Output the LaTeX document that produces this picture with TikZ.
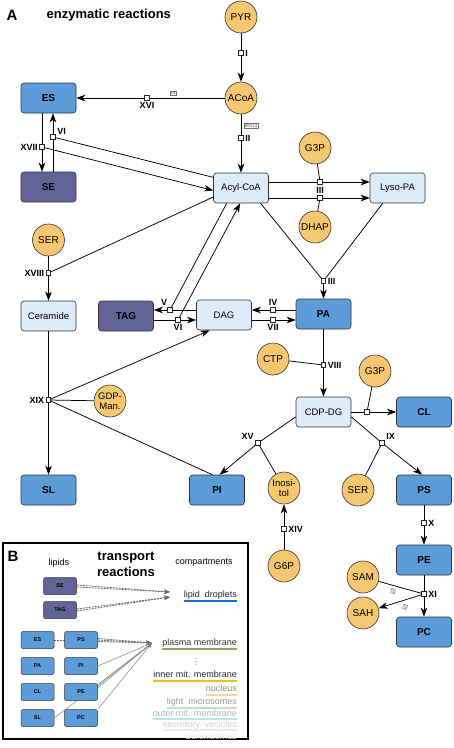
\documentclass[tikz,border=0pt]{standalone}
\usepackage{fontspec}
\setmainfont{Liberation Sans}
\newfontfamily\symfont{DejaVu Sans}
\usepackage{tikz}
\usetikzlibrary{arrows.meta,backgrounds}

\definecolor{metorange}{RGB}{244,199,112}
\definecolor{lipblue}{RGB}{92,156,216}
\definecolor{lipdark}{RGB}{98,100,152}
\definecolor{liplight}{RGB}{222,235,248}
\definecolor{cldrop}{RGB}{20,110,215}
\definecolor{cplasma}{RGB}{140,170,80}
\definecolor{cinner}{RGB}{245,190,20}
\definecolor{cnucl}{RGB}{245,215,160}
\definecolor{cmicro}{RGB}{190,225,200}
\definecolor{couter}{RGB}{180,230,235}
\definecolor{csecr}{RGB}{222,240,250}

\begin{document}
\begin{tikzpicture}[x=1pt,y=-1pt,line width=0.75pt,
  met/.style={circle, draw=black!80, line width=0.6pt, fill=metorange, minimum size=32pt, inner sep=0pt, align=center, font=\fontsize{10}{10}\selectfont},
  lip/.style={rectangle, rounded corners=3pt, draw=black!80, line width=0.6pt, minimum width=55pt, minimum height=30pt, inner sep=0pt},
  lipA/.style={lip, fill=lipblue, font=\bfseries\fontsize{10}{12}\selectfont},
  lipB/.style={lip, fill=lipdark, font=\bfseries\fontsize{10}{12}\selectfont},
  lipC/.style={lip, fill=liplight, font=\fontsize{9.5}{12}\selectfont},
  rxn/.style={rectangle, draw=black!85, fill=white, line width=0.6pt, minimum size=4.5pt, inner sep=0pt},
  rlab/.style={font=\bfseries\fontsize{9}{9}\selectfont, inner sep=1.5pt},
  arr/.style={-{Stealth[length=9pt,width=6.5pt,inset=2.5pt]}},
  num/.style={draw=black!55, fill=white, line width=0.4pt, inner sep=0.7pt, text=black!70, font=\fontsize{4.5}{5}\selectfont},
  slip/.style={rectangle, rounded corners=2pt, draw=black!80, line width=0.5pt, minimum width=33pt, minimum height=17pt, inner sep=0pt, font=\bfseries\fontsize{5.5}{6}\selectfont},
  slipA/.style={slip, fill=lipblue},
  slipB/.style={slip, fill=lipdark},
  comp/.style={inner sep=0pt, font=\fontsize{9}{10}\selectfont},
  tline/.style={black!50, line width=0.5pt, -{Stealth[length=5pt,width=3.5pt]}},
  tdash/.style={black!60, line width=0.8pt, dash pattern=on 2pt off 1pt, -{Stealth[length=6pt,width=4.5pt]}}]

  \useasboundingbox (0,0) rectangle (454,748);

  % Draw titles
  \node [font=\bfseries\fontsize{15}{15}\selectfont] (labA) at (12,15) {A};
  \node [anchor=west, font=\bfseries\fontsize{13}{13}\selectfont] (titA) at (43,15) {enzymatic reactions};

  % Draw metabolites
  \node [met] (pyr) at (241,17) {PYR};
  \node [met] (acoa) at (241,98) {ACoA};
  \node [met] (g3pa) at (315,148) {G3P};
  \node [met] (dhap) at (315,227) {DHAP};
  \node [met] (sera) at (48.5,240) {SER};
  \node [met] (ctp) at (273,359) {CTP};
  \node [met] (g3pb) at (375,371) {G3P};
  \node [met, font=\fontsize{9.5}{9.5}\selectfont] (gdpman) at (110,401) {GDP-\\Man.};
  \node [met, font=\fontsize{9.5}{9.5}\selectfont] (inos) at (284,488) {Inosi-\\tol};
  \node [met] (serb) at (358,490) {SER};
  \node [met] (g6p) at (284,566) {G6P};
  \node [met] (sam) at (363,577) {SAM};
  \node [met] (sah) at (363,613) {SAH};

  % Draw lipids
  \node [lipA] (es) at (48.5,98) {ES};
  \node [lipB] (se) at (48.5,187) {SE};
  \node [lipC] (acyl) at (241,188) {Acyl-CoA};
  \node [lipC] (lyso) at (397.5,188) {Lyso-PA};
  \node [lipC] (cer) at (48.5,316) {Ceramide};
  \node [lipB] (tag) at (126,316) {TAG};
  \node [lipC] (dag) at (224,315) {DAG};
  \node [lipA] (pa) at (323.5,314) {PA};
  \node [lipC] (cdp) at (323.5,412) {CDP-DG};
  \node [lipA] (cl) at (424,412) {CL};
  \node [lipA] (sl) at (48.5,490) {SL};
  \node [lipA] (pi) at (217,490) {PI};
  \node [lipA] (ps) at (424,490) {PS};
  \node [lipA] (pe) at (424,560) {PE};
  \node [lipA] (pc) at (424,632) {PC};

  % Draw reactions
  \node [rxn, label={[rlab]right:I}] (r1) at (241,53) {};
  \node [rxn, label={[rlab]below:XVI}] (r16) at (147,98) {};
  \node [rxn, label={[rlab]right:II}] (r2) at (241,138) {};
  \node [rxn, label={[rlab]left:XVII}] (r17) at (42,147) {};
  \node [rxn, label={[rlab]20:VI}] (r6a) at (53,137) {};
  \node [rxn] (r3a) at (320,182) {};
  \node [rxn] (r3b) at (320,198) {};
  \node [rlab] (l3) at (320,190) {III};
  \node [rxn, label={[rlab]left:XVIII}] (r18) at (48.5,273) {};
  \node [rxn, label={[rlab]right:III}] (r3c) at (323.5,281) {};
  \node [rxn, label={[rlab]110:V}] (r5) at (170,310) {};
  \node [rxn, label={[rlab]below:VI}] (r6b) at (178,320) {};
  \node [rxn, label={[rlab]above:IV}] (r4) at (273,310) {};
  \node [rxn, label={[rlab]below:VII}] (r7) at (273,320) {};
  \node [rxn, label={[rlab]right:VIII}] (r8) at (323.5,365) {};
  \node [rxn] (rcl) at (367,412) {};
  \node [rxn, label={[rlab]left:XIX}] (r19) at (48.5,400) {};
  \node [rxn, label={[rlab]150:XV}] (r15) at (258,443) {};
  \node [rxn, label={[rlab]30:IX}] (r9) at (382,443) {};
  \node [rxn, label={[rlab]right:XIV}] (r14) at (284,529) {};
  \node [rxn, label={[rlab]right:X}] (r10) at (424,523) {};
  \node [rxn, label={[rlab]right:XI}] (r11) at (424,594) {};

  % Draw reaction edges
  \draw (pyr) -- (r1);  \draw [arr] (r1) -- (acoa);
  \draw (acoa) -- (r16);  \draw [arr] (r16) -- (es);
  \draw (acoa) -- (r2);  \draw [arr] (r2) -- (acyl);
  \draw (r17 |- es.south) -- (r17);  \draw [arr] (r17) -- (r17 |- se.north);  \draw [arr] (r17) -- (acyl.185);
  \draw (r6a |- se.north) -- (r6a);  \draw [arr] (r6a) -- (r6a |- es.south);  \draw (acyl.159) -- (r6a);
  \draw (acyl.east |- r3a) -- (r3a);  \draw [arr] (r3a) -- (lyso.west |- r3a);  \draw (g3pa) -- (r3a);
  \draw (acyl.east |- r3b) -- (r3b);  \draw [arr] (r3b) -- (lyso.west |- r3b);  \draw (dhap) -- (r3b);
  \draw (acyl.-38) -- (r3c);  \draw (lyso.-134) -- (r3c);  \draw [arr] (r3c) -- (pa);
  \draw (acyl.198) -- (r18);  \draw (sera) -- (r18);  \draw [arr] (r18) -- (cer);
  \draw (acyl.-133) -- (r5);  \draw (dag.west |- r5) -- (r5);  \draw [arr] (r5) -- (tag.east |- r5);
  \draw (tag.east |- r6b) -- (r6b);  \draw [arr] (r6b) -- (dag.west |- r6b);  \draw [arr] (r6b) -- (acyl.-93);
  \draw (pa.west |- r4) -- (r4);  \draw [arr] (r4) -- (dag.east |- r4);
  \draw (dag.east |- r7) -- (r7);  \draw [arr] (r7) -- (pa.west |- r7);
  \draw (pa) -- (r8);  \draw (ctp) -- (r8);  \draw [arr] (r8) -- (cdp);
  \draw (cdp) -- (rcl);  \draw (g3pb) -- (rcl);  \draw [arr] (rcl) -- (cl);
  \draw (cer) -- (r19);  \draw [arr] (r19) -- (sl);  \draw [arr] (r19) -- (dag.-133);
  \draw (r19) -- (gdpman);  \draw (r19) -- (pi.107);
  \draw (cdp.190) -- (r15);  \draw (inos) -- (r15);  \draw [arr] (r15) -- (pi.80);
  \draw (cdp.-10) -- (r9);  \draw (serb) -- (r9);  \draw [arr] (r9) -- (ps.97);
  \draw (g6p) -- (r14);  \draw [arr] (r14) -- (inos);
  \draw (ps) -- (r10);  \draw [arr] (r10) -- (pe);
  \draw (pe) -- (r11);  \draw [arr] (r11) -- (pc);
  \draw (sam) -- (r11);  \draw [arr] (r11) -- (sah);

  % Stoichiometry boxes
  \node [num] (n18) at (173,93) {18};
  \node [num] (n8913) at (251,126) {8/9/13};
  \node [num, rotate=-14] (n3a) at (393,591) {3};
  \node [num, rotate=-21] (n3b) at (405,607) {3};

  % Transport panel
  \draw [line width=1.3pt] (3,543) rectangle (248,739);
  \node [font=\bfseries\fontsize{15}{15}\selectfont] (labB) at (13,556) {B};
  \node [font=\fontsize{9}{10}\selectfont] (hlip) at (59,563) {lipids};
  \node [align=center, font=\bfseries\fontsize{13}{16}\selectfont] (titB) at (126,564) {transport\\reactions};
  \node [font=\fontsize{9}{10}\selectfont] (hcomp) at (204,563) {compartments};

  \node [slipB] (sse) at (60,586) {SE};
  \node [slipB] (stag) at (60,610) {TAG};
  \node [slipA] (ses) at (37.5,640) {ES};
  \node [slipA] (sps) at (81,640) {PS};
  \node [slipA] (spa) at (37.5,666) {PA};
  \node [slipA] (spi) at (81,666) {PI};
  \node [slipA] (scl) at (37.5,692) {CL};
  \node [slipA] (spe) at (81,692) {PE};
  \node [slipA] (ssl) at (37.5,718) {SL};
  \node [slipA] (spc) at (81,718) {PC};

  \coordinate (ld1) at (170,592);
  \coordinate (ld2) at (170,597);
  \coordinate (pm) at (152,643);

  \begin{pgfonlayer}{background}
    \draw [tdash] ([yshift=1pt]sse.east) -- (ld1);
    \draw [tdash] ([yshift=-1pt]sse.east) -- (ld1);
    \draw [tdash] ([yshift=1pt]stag.east) -- (ld2);
    \draw [tdash] ([yshift=-1pt]stag.east) -- (ld2);
    \draw [tdash] (ses.east) -- (sps.center);
    \draw [tdash] ([yshift=1.5pt]sps.east) -- (pm);
    \draw [tdash] (sps.east) -- (pm);
    \draw [tdash] ([yshift=-1.5pt]sps.east) -- (pm);
    \draw [tline] (spi.east) -- (pm);
    \draw [tline] ([yshift=4pt]spe.east) -- (pm);
    \draw [tline] ([yshift=6pt]spe.east) -- (pm);
    \draw [tline] (ssl.east) -- (pm);
    \draw [tline] (spc.north east) -- (pm);
  \end{pgfonlayer}

  % Compartments
  \begin{scope}
    \clip (3,543) rectangle (248,738);
    \node [comp, anchor=base east, text=black!85] (cld) at (237,597) {lipid\ \ droplets};
    \node [comp, anchor=base east, text=black!80] (cpm) at (237,645) {plasma membrane};
    \node [comp, anchor=base east, text=black!85] (cim) at (237,677) {inner mit. membrane};
    \node [comp, anchor=base east, text=black!45] (cnu) at (237,691) {nucleus};
    \node [comp, anchor=base east, text=black!40] (cmi) at (237,704) {light\ \ microsomes};
    \node [comp, anchor=base east, text=black!30] (com) at (237,716) {outer mit. membrane};
    \node [comp, anchor=base east, text=black!18] (csv) at (237,727) {secretory\ \ vesicles};
    \node [comp, anchor=base east, text=black!8] (cpx) at (237,739) {peroxisomes};
    \node [font=\symfont\fontsize{8}{8}\selectfont, text=black!60, inner sep=0pt] (cdots) at (196,662) {⋮};
    \draw [line width=2.2pt, cldrop] ([yshift=-4pt]cld.base west) -- ([yshift=-4pt]cld.base east);
    \draw [line width=2.2pt, cplasma] ([yshift=-4pt]cpm.base west) -- ([yshift=-4pt]cpm.base east);
    \draw [line width=2.2pt, cinner] ([yshift=-4pt]cim.base west) -- ([yshift=-4pt]cim.base east);
    \draw [line width=2pt, cnucl] ([yshift=-3.5pt]cnu.base west) -- ([yshift=-3.5pt]cnu.base east);
    \draw [line width=2pt, cmicro] ([yshift=-3.5pt]cmi.base west) -- ([yshift=-3.5pt]cmi.base east);
    \draw [line width=2pt, couter] ([yshift=-3pt]com.base west) -- ([yshift=-3pt]com.base east);
    \draw [line width=2pt, csecr] ([yshift=-3pt]csv.base west) -- ([yshift=-3pt]csv.base east);
  \end{scope}
\end{tikzpicture}
\end{document}
